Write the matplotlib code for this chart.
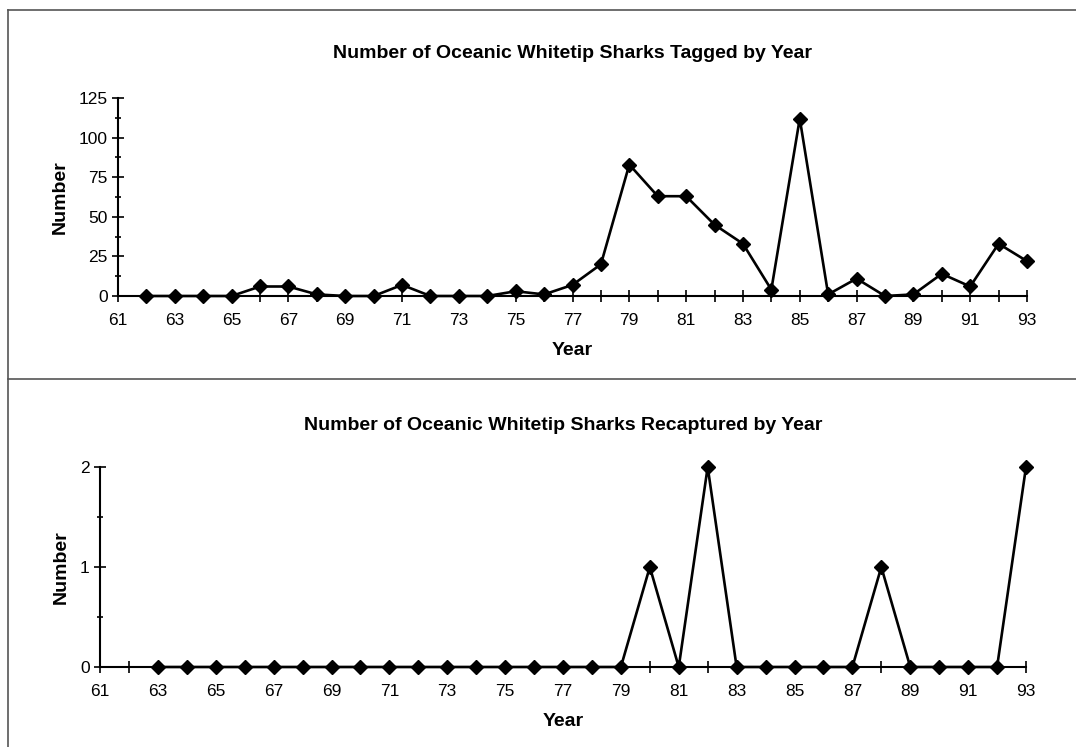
import numpy as np
import matplotlib
matplotlib.use("Agg")
import matplotlib.pyplot as plt
from matplotlib.lines import Line2D
from matplotlib.ticker import MultipleLocator

plt.rcParams['font.family'] = ['Liberation Sans', 'DejaVu Sans']

# data
tag_years = list(range(62, 94))
tagged = [0, 0, 0, 0, 6, 6, 1, 0, 0, 7, 0, 0, 0, 3, 1, 7, 20, 83, 63, 63,
          45, 33, 4, 112, 1, 11, 0, 1, 14, 6, 33, 22]
recap_years = list(range(63, 94))
recaptured = [0, 0, 0, 0, 0, 0, 0, 0, 0, 0, 0, 0, 0, 0, 0, 0, 0, 1, 0, 2,
              0, 0, 0, 0, 0, 1, 0, 0, 0, 0, 2]
x_labels = list(range(61, 94, 2))

W, H = 1076, 747
fig = plt.figure(figsize=(W / 100, H / 100), dpi=100)


def px_axes(x0, x1, ytop, ybot):
    return fig.add_axes([x0 / W, 1 - ybot / H, (x1 - x0) / W, (ybot - ytop) / H])


def style(ax, ymax, ymajor, yminor):
    ax.set_xlim(61, 93)
    ax.set_ylim(0, ymax)
    for s in ['top', 'right']:
        ax.spines[s].set_visible(False)
    for s in ['left', 'bottom']:
        ax.spines[s].set_linewidth(1.5)
    ax.set_xticks(range(61, 94))
    ax.set_xticklabels([str(y) if y in x_labels else '' for y in range(61, 94)])
    ax.yaxis.set_major_locator(MultipleLocator(ymajor))
    ax.yaxis.set_minor_locator(MultipleLocator(yminor))
    ax.tick_params(which='major', direction='inout', length=9, width=1.2,
                   labelsize=12.5)
    ax.tick_params(which='minor', direction='inout', length=5, width=1.2)
    ax.tick_params(axis='x', pad=8)
    ax.tick_params(axis='y', pad=3)
    ax.set_xlabel('Year', fontsize=14, fontweight='bold', labelpad=10)
    ax.set_ylabel('Number', fontsize=14, fontweight='bold', labelpad=7)


ax1 = px_axes(118, 1027, 98, 296)
ax1.plot(tag_years, tagged, color='black', lw=1.9, marker='D', ms=7,
         clip_on=False)
style(ax1, 125, 25, 12.5)
ax1.set_title('Number of Oceanic Whitetip Sharks Tagged by Year',
              fontsize=14, fontweight='bold', pad=29)

ax2 = px_axes(100, 1026, 467, 667)
ax2.plot(recap_years, recaptured, color='black', lw=1.9, marker='D', ms=7,
         clip_on=False)
style(ax2, 2, 1, 0.5)
ax2.set_title('Number of Oceanic Whitetip Sharks Recaptured by Year',
              fontsize=14, fontweight='bold', pad=27)

# panel frame lines
for line in [([8 / W, 1], [1 - 10 / H, 1 - 10 / H]),
             ([8 / W, 1], [1 - 379 / H, 1 - 379 / H]),
             ([8 / W, 8 / W], [0, 1 - 10 / H])]:
    fig.add_artist(Line2D(line[0], line[1], color='#555555', lw=1.2))

fig.savefig('out.png', dpi=100)
